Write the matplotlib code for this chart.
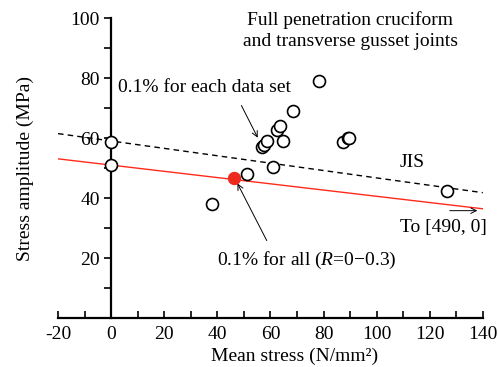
import numpy as np
import matplotlib
matplotlib.use('Agg')
import matplotlib.pyplot as plt

plt.rcParams['font.family'] = ['Liberation Serif', 'DejaVu Serif']
plt.rcParams['axes.unicode_minus'] = False
plt.rcParams['mathtext.fontset'] = 'custom'
plt.rcParams['mathtext.it'] = 'Liberation Serif:italic'
plt.rcParams['mathtext.rm'] = 'Liberation Serif'

# test data (mean stress, stress amplitude)
mean_stress = [0, 0, 38, 51, 61, 56.7, 57.4, 58.6, 64.6, 62.4, 63.6, 68.6, 78.4, 87.5, 89.4, 89.7, 126.4]
amplitude = [58.7, 51, 38, 47.9, 50.2, 56.9, 57.7, 59, 59, 62.7, 64, 69.1, 79.1, 58.6, 59.9, 60.1, 42.4]

# 0.1% for all (R=0-0.3)
red_point = (46.4, 46.8)

# lines
line_x = [-20, 140]
jis_y = [61.5, 41.8]
all_y0 = 51.0
all_xend = 490.0

fig = plt.figure(figsize=(4.98, 3.67), dpi=100)
ax = fig.add_axes([0.1165, 0.1335, 0.853, 0.817])

ax.plot(line_x, jis_y, color='black', lw=1.0, ls=(0, (4, 3)), zorder=2)
red_y = [all_y0 * (1 - x / all_xend) for x in line_x]
ax.plot(line_x, red_y, color='#ff2a1a', lw=1.0, zorder=2)

ax.plot(mean_stress, amplitude, 'o', ms=8.6, mfc='white', mec='black', mew=1.2,
        zorder=3, clip_on=False)
ax.plot(*red_point, 'o', ms=8.6, mfc='#ee2a1e', mec='#ee2a1e', zorder=4)

ax.set_xlim(-20, 140)
ax.set_ylim(0, 100)
ax.spines['left'].set_position(('data', 0))
ax.spines['right'].set_visible(False)
ax.spines['top'].set_visible(False)
ax.spines['left'].set_linewidth(1.6)
ax.spines['bottom'].set_linewidth(1.6)

ax.set_xticks(np.arange(-20, 141, 20))
ax.set_xticks(np.arange(-10, 141, 10), minor=True)
ax.set_yticks(np.arange(20, 101, 20))
ax.set_yticks(np.arange(10, 101, 10), minor=True)
ax.tick_params(axis='x', which='both', direction='in', length=5, width=1.2, labelsize=14, pad=6)
ax.tick_params(axis='y', which='both', direction='out', length=5, width=1.2, labelsize=14, pad=3)

ax.set_xlabel('Mean stress (N/mm²)', fontsize=14)
ax.xaxis.set_label_coords(0.557, -0.128)
ax.xaxis.label.set_va('center')
ax.set_ylabel('Stress amplitude (MPa)', fontsize=14)
ax.yaxis.set_label_coords(-0.078, 0.5)
ax.yaxis.label.set_va('center')

ax.text(90, 96, 'Full penetration cruciform\nand transverse gusset joints',
        ha='center', va='center', fontsize=14, linespacing=1.3)
ax.text(2.5, 77, '0.1% for each data set', ha='left', va='center', fontsize=14)
ax.annotate('', xy=(55.7, 59.3), xytext=(48.6, 71.7),
            arrowprops=dict(arrowstyle='->', color='black', lw=0.7))
ax.text(108.8, 51.7, 'JIS', ha='left', va='center', fontsize=14)
ax.text(108.8, 30.3, 'To [490, 0]', ha='left', va='center', fontsize=14)
ax.annotate('', xy=(139, 35.8), xytext=(126.5, 35.8),
            arrowprops=dict(arrowstyle='->', color='black', lw=0.7))
ax.text(39.8, 19.3, '0.1% for all ($R$=0$-$0.3)', ha='left', va='center', fontsize=14)
ax.annotate('', xy=(47.1, 45.7), xytext=(59.1, 25),
            arrowprops=dict(arrowstyle='->', color='black', lw=0.7))

fig.savefig('out.png', dpi=100)
